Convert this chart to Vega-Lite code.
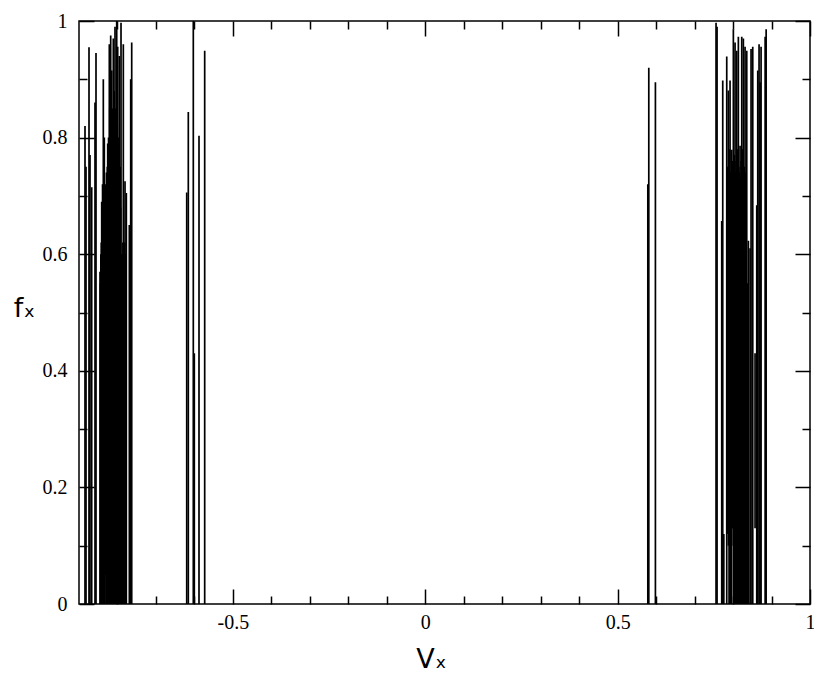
{
  "$schema": "https://vega.github.io/schema/vega-lite/v6.json",
  "width": 731,
  "height": 583,
  "autosize": {"type": "none"},
  "padding": {"left": 79, "top": 21, "right": 4, "bottom": 75},
  "background": "white",
  "config": {
    "view": {"stroke": "black", "strokeWidth": 1.5},
    "axis": {
      "domain": false,
      "grid": false,
      "tickColor": "black",
      "tickWidth": 1.5,
      "labelColor": "black",
      "labelFont": "Liberation Serif",
      "labelFontSize": 20,
      "labelOverlap": false,
      "labelFlush": false,
      "titleColor": "black",
      "titleFont": "DejaVu Sans",
      "titleFontSize": 27,
      "titleFontWeight": "normal"
    }
  },
  "data": {
    "values": [
      {"vx": -0.8844, "lo": 0, "hi": 0.82},
      {"vx": -0.8818, "lo": 0, "hi": 0.75},
      {"vx": -0.874, "lo": 0, "hi": 0.955},
      {"vx": -0.8714, "lo": 0, "hi": 0.77},
      {"vx": -0.867, "lo": 0, "hi": 0.715},
      {"vx": -0.8584, "lo": 0, "hi": 0.86},
      {"vx": -0.8558, "lo": 0, "hi": 0.945},
      {"vx": -0.8454, "lo": 0, "hi": 0.57},
      {"vx": -0.8443, "lo": 0, "hi": 0.55},
      {"vx": -0.8432, "lo": 0, "hi": 0.6},
      {"vx": -0.8421, "lo": 0.05, "hi": 0.62},
      {"vx": -0.841, "lo": 0, "hi": 0.69},
      {"vx": -0.8399, "lo": 0, "hi": 0.65},
      {"vx": -0.8388, "lo": 0, "hi": 0.72},
      {"vx": -0.8378, "lo": 0.08, "hi": 0.7},
      {"vx": -0.8368, "lo": 0, "hi": 0.9},
      {"vx": -0.8355, "lo": 0, "hi": 0.7},
      {"vx": -0.8342, "lo": 0, "hi": 0.8},
      {"vx": -0.8331, "lo": 0, "hi": 0.68},
      {"vx": -0.832, "lo": 0.05, "hi": 0.72},
      {"vx": -0.8309, "lo": 0.1, "hi": 0.66},
      {"vx": -0.8298, "lo": 0, "hi": 0.7},
      {"vx": -0.8287, "lo": 0, "hi": 0.74},
      {"vx": -0.8276, "lo": 0, "hi": 0.7},
      {"vx": -0.8265, "lo": 0, "hi": 0.75},
      {"vx": -0.8254, "lo": 0, "hi": 0.79},
      {"vx": -0.8243, "lo": 0, "hi": 0.76},
      {"vx": -0.8232, "lo": 0, "hi": 0.8},
      {"vx": -0.8222, "lo": 0.1, "hi": 0.78},
      {"vx": -0.8212, "lo": 0, "hi": 0.96},
      {"vx": -0.82, "lo": 0, "hi": 0.85},
      {"vx": -0.8188, "lo": 0, "hi": 0.88},
      {"vx": -0.8176, "lo": 0, "hi": 0.975},
      {"vx": -0.8163, "lo": 0, "hi": 0.86},
      {"vx": -0.815, "lo": 0, "hi": 0.915},
      {"vx": -0.814, "lo": 0, "hi": 0.82},
      {"vx": -0.813, "lo": 0, "hi": 0.85},
      {"vx": -0.8119, "lo": 0, "hi": 0.8},
      {"vx": -0.8108, "lo": 0, "hi": 0.97},
      {"vx": -0.8097, "lo": 0, "hi": 0.85},
      {"vx": -0.8086, "lo": 0, "hi": 0.88},
      {"vx": -0.8075, "lo": 0, "hi": 0.83},
      {"vx": -0.8064, "lo": 0, "hi": 0.99},
      {"vx": -0.8053, "lo": 0, "hi": 0.8},
      {"vx": -0.8042, "lo": 0, "hi": 0.85},
      {"vx": -0.8031, "lo": 0, "hi": 0.78},
      {"vx": -0.802, "lo": 0, "hi": 1.0},
      {"vx": -0.8007, "lo": 0, "hi": 0.82},
      {"vx": -0.7994, "lo": 0, "hi": 0.956},
      {"vx": -0.7983, "lo": 0, "hi": 0.75},
      {"vx": -0.7973, "lo": 0, "hi": 0.8},
      {"vx": -0.7962, "lo": 0, "hi": 0.72},
      {"vx": -0.7952, "lo": 0, "hi": 0.94},
      {"vx": -0.7941, "lo": 0.1, "hi": 0.7},
      {"vx": -0.793, "lo": 0, "hi": 0.75},
      {"vx": -0.7919, "lo": 0, "hi": 0.68},
      {"vx": -0.7908, "lo": 0, "hi": 0.997},
      {"vx": -0.7895, "lo": 0, "hi": 0.6},
      {"vx": -0.7882, "lo": 0, "hi": 0.576},
      {"vx": -0.787, "lo": 0, "hi": 0.6},
      {"vx": -0.7859, "lo": 0, "hi": 0.62},
      {"vx": -0.7848, "lo": 0, "hi": 0.96},
      {"vx": -0.7836, "lo": 0, "hi": 0.6},
      {"vx": -0.7826, "lo": 0.05, "hi": 0.55},
      {"vx": -0.7815, "lo": 0, "hi": 0.62},
      {"vx": -0.7804, "lo": 0, "hi": 0.725},
      {"vx": -0.7792, "lo": 0, "hi": 0.55},
      {"vx": -0.7781, "lo": 0, "hi": 0.6},
      {"vx": -0.777, "lo": 0, "hi": 0.705},
      {"vx": -0.7692, "lo": 0, "hi": 0.65},
      {"vx": -0.7656, "lo": 0, "hi": 0.9},
      {"vx": -0.763, "lo": 0, "hi": 0.963},
      {"vx": -0.62, "lo": 0, "hi": 0.706},
      {"vx": -0.6159, "lo": 0, "hi": 0.844},
      {"vx": -0.6029, "lo": 0, "hi": 1.0},
      {"vx": -0.6003, "lo": 0, "hi": 0.43},
      {"vx": -0.5881, "lo": 0, "hi": 0.803},
      {"vx": -0.5733, "lo": 0, "hi": 0.949},
      {"vx": 0.5785, "lo": 0, "hi": 0.72},
      {"vx": 0.581, "lo": 0, "hi": 0.92},
      {"vx": 0.5982, "lo": 0, "hi": 0.895},
      {"vx": 0.7558, "lo": 0, "hi": 0.997},
      {"vx": 0.7584, "lo": 0, "hi": 0.99},
      {"vx": 0.7706, "lo": 0, "hi": 0.657},
      {"vx": 0.7732, "lo": 0, "hi": 0.898},
      {"vx": 0.776, "lo": 0, "hi": 0.12},
      {"vx": 0.7836, "lo": 0, "hi": 0.939},
      {"vx": 0.7848, "lo": 0.12, "hi": 0.7},
      {"vx": 0.786, "lo": 0.12, "hi": 0.75},
      {"vx": 0.7878, "lo": 0.1, "hi": 0.881},
      {"vx": 0.7897, "lo": 0, "hi": 0.7},
      {"vx": 0.7913, "lo": 0, "hi": 0.78},
      {"vx": 0.7922, "lo": 0, "hi": 0.898},
      {"vx": 0.7935, "lo": 0, "hi": 0.74},
      {"vx": 0.795, "lo": 0, "hi": 0.72},
      {"vx": 0.7966, "lo": 0, "hi": 0.779},
      {"vx": 0.7978, "lo": 0.13, "hi": 0.76},
      {"vx": 0.7992, "lo": 0.13, "hi": 0.75},
      {"vx": 0.8008, "lo": 0.1, "hi": 0.986},
      {"vx": 0.802, "lo": 0, "hi": 0.72},
      {"vx": 0.8035, "lo": 0, "hi": 0.77},
      {"vx": 0.8052, "lo": 0, "hi": 0.963},
      {"vx": 0.8065, "lo": 0, "hi": 0.74},
      {"vx": 0.808, "lo": 0, "hi": 0.76},
      {"vx": 0.8096, "lo": 0, "hi": 0.949},
      {"vx": 0.8108, "lo": 0, "hi": 0.72},
      {"vx": 0.8122, "lo": 0, "hi": 0.78},
      {"vx": 0.8138, "lo": 0, "hi": 0.973},
      {"vx": 0.815, "lo": 0, "hi": 0.75},
      {"vx": 0.8165, "lo": 0, "hi": 0.74},
      {"vx": 0.8182, "lo": 0, "hi": 0.786},
      {"vx": 0.8194, "lo": 0, "hi": 0.73},
      {"vx": 0.821, "lo": 0, "hi": 0.76},
      {"vx": 0.8226, "lo": 0, "hi": 0.973},
      {"vx": 0.8238, "lo": 0, "hi": 0.74},
      {"vx": 0.8252, "lo": 0, "hi": 0.78},
      {"vx": 0.8268, "lo": 0, "hi": 0.97},
      {"vx": 0.828, "lo": 0, "hi": 0.72},
      {"vx": 0.8296, "lo": 0, "hi": 0.75},
      {"vx": 0.8312, "lo": 0, "hi": 0.956},
      {"vx": 0.8325, "lo": 0, "hi": 0.74},
      {"vx": 0.834, "lo": 0, "hi": 0.7},
      {"vx": 0.8356, "lo": 0, "hi": 0.949},
      {"vx": 0.837, "lo": 0, "hi": 0.55},
      {"vx": 0.8385, "lo": 0, "hi": 0.5},
      {"vx": 0.8398, "lo": 0, "hi": 0.623},
      {"vx": 0.8442, "lo": 0, "hi": 0.61},
      {"vx": 0.8468, "lo": 0, "hi": 0.952},
      {"vx": 0.8512, "lo": 0, "hi": 0.956},
      {"vx": 0.8572, "lo": 0.13, "hi": 0.43},
      {"vx": 0.8616, "lo": 0, "hi": 0.684},
      {"vx": 0.8642, "lo": 0, "hi": 0.915},
      {"vx": 0.8676, "lo": 0, "hi": 0.96},
      {"vx": 0.8702, "lo": 0, "hi": 0.895},
      {"vx": 0.8728, "lo": 0, "hi": 0.956},
      {"vx": 0.8834, "lo": 0, "hi": 0.973},
      {"vx": 0.886, "lo": 0, "hi": 0.986}
    ]
  },
  "layer": [
    {
      "mark": {"type": "rule", "color": "black", "strokeWidth": 1.7, "clip": true},
      "encoding": {
        "x": {
          "field": "vx",
          "type": "quantitative",
          "scale": {"domain": [-0.9, 1], "nice": false, "zero": false},
          "axis": {
            "orient": "bottom",
            "title": "Vₓ",
            "values": [-0.8, -0.7, -0.6, -0.5, -0.4, -0.3, -0.2, -0.1, 0, 0.1, 0.2, 0.3, 0.4, 0.5, 0.6, 0.7, 0.8, 0.9, 1],
            "tickSize": {"condition": {"test": "abs(datum.value*2 - round(datum.value*2)) < 0.000001", "value": -15}, "value": -8},
            "labelExpr": "abs(datum.value*2 - round(datum.value*2)) < 0.000001 ? '' + datum.value : ''",
            "labelPadding": 23,
            "titleX": 352,
            "titleY": 55,
            "titleAlign": "center",
            "titleBaseline": "middle"
          }
        },
        "y": {
          "field": "lo",
          "type": "quantitative",
          "scale": {"domain": [0, 1], "nice": false},
          "axis": {
            "orient": "left",
            "title": "fₓ",
            "values": [0, 0.1, 0.2, 0.3, 0.4, 0.5, 0.6, 0.7, 0.8, 0.9, 1],
            "tickSize": {"condition": {"test": "abs(datum.value*5 - round(datum.value*5)) < 0.000001", "value": -15}, "value": -8},
            "labelExpr": "abs(datum.value*5 - round(datum.value*5)) < 0.000001 ? '' + datum.value : ''",
            "labelPadding": 27,
            "titleAngle": 0,
            "titleX": -55,
            "titleY": 287,
            "titleAlign": "center",
            "titleBaseline": "middle"
          }
        },
        "y2": {"field": "hi"}
      }
    },
    {
      "mark": {"type": "rule", "opacity": 0},
      "encoding": {
        "x": {
          "field": "vx",
          "type": "quantitative",
          "axis": {
            "orient": "top",
            "title": null,
            "labels": false,
            "values": [-0.8, -0.7, -0.6, -0.5, -0.4, -0.3, -0.2, -0.1, 0, 0.1, 0.2, 0.3, 0.4, 0.5, 0.6, 0.7, 0.8, 0.9, 1],
            "tickSize": {"condition": {"test": "abs(datum.value*2 - round(datum.value*2)) < 0.000001", "value": -15}, "value": -8}
          }
        },
        "y": {
          "field": "hi",
          "type": "quantitative",
          "axis": {
            "orient": "right",
            "title": null,
            "labels": false,
            "values": [0, 0.1, 0.2, 0.3, 0.4, 0.5, 0.6, 0.7, 0.8, 0.9, 1],
            "tickSize": {"condition": {"test": "abs(datum.value*5 - round(datum.value*5)) < 0.000001", "value": -15}, "value": -8}
          }
        }
      }
    }
  ],
  "resolve": {"axis": {"x": "independent", "y": "independent"}}
}
